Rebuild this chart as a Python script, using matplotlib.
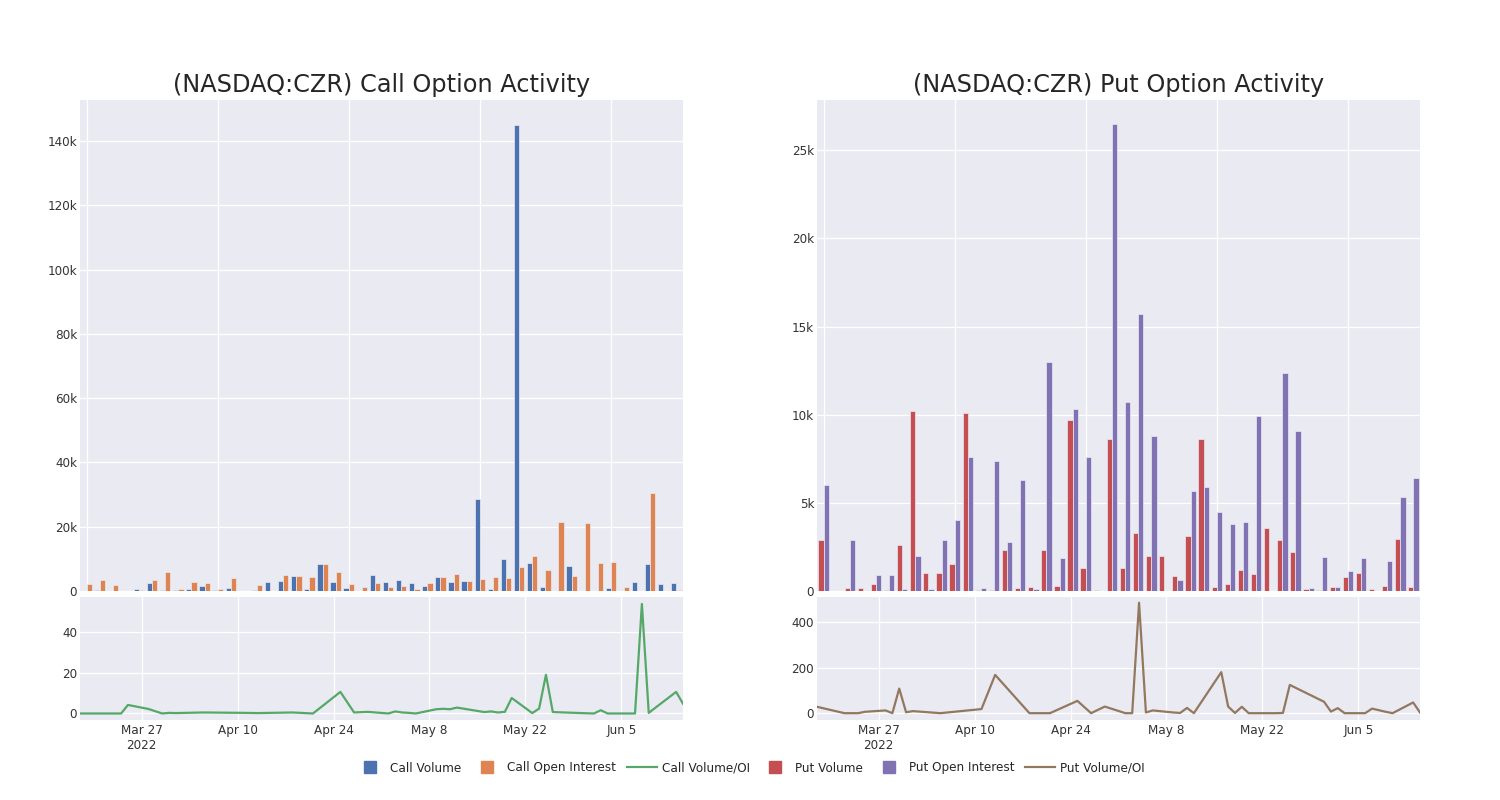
import matplotlib
matplotlib.use("Agg")
import matplotlib.pyplot as plt
from matplotlib.lines import Line2D
from matplotlib.ticker import FuncFormatter, FixedLocator
import numpy as np
import datetime as dt

plt.rcParams['font.family'] = ['DejaVu Sans']

# ---------------- data ----------------
dates = [
    "2022-03-18", "2022-03-22", "2022-03-24", "2022-03-25", "2022-03-28", "2022-03-29",
    "2022-03-30", "2022-03-31", "2022-04-01", "2022-04-05", "2022-04-11", "2022-04-13",
    "2022-04-18", "2022-04-21", "2022-04-25", "2022-04-27", "2022-04-29", "2022-05-02",
    "2022-05-03", "2022-05-04", "2022-05-05", "2022-05-06", "2022-05-09", "2022-05-10",
    "2022-05-11", "2022-05-12", "2022-05-16", "2022-05-17", "2022-05-18", "2022-05-19",
    "2022-05-20", "2022-05-23", "2022-05-24", "2022-05-25", "2022-05-26", "2022-05-31",
    "2022-06-01", "2022-06-02", "2022-06-03", "2022-06-06", "2022-06-07", "2022-06-08",
    "2022-06-09", "2022-06-10", "2022-06-13", "2022-06-14",
]

call_volume = [100, 400, 100, 100, 700, 2400, 300, 200, 700, 1700, 300, 900, 50, 300,
               2800, 3100, 4700, 500, 8400, 2900, 900, 100, 5100, 2800, 3300, 2600, 1600,
               4300, 2700, 3100, 28700, 700, 10100, 145100, 8600, 1100, 100, 7700, 50, 100,
               1000, 100, 2800, 8500, 2300, 2500]
call_oi = [2100, 3500, 1900, 30, 300, 3400, 6000, 600, 2900, 2600, 600, 3900, 50, 1900,
           100, 5100, 4700, 4400, 8300, 6000, 2200, 1200, 2500, 1100, 1600, 700, 2600,
           4300, 5400, 3200, 3600, 4300, 4100, 7500, 11000, 6400, 21500, 4800, 21100, 8800,
           9000, 1100, 50, 30600, 100, 400]
call_vo = [0, 0, 0, 4.2, 2.2, 1.1, 0, 0.3, 0.2, 0.5, 0.3, 0.2, 0.5, 0, 10.6, 0.5, 0.8, 0,
           1.0, 0.5, 0.3, 0, 2.1, 2.3, 2.1, 2.9, 0.7, 1.0, 0.5, 0.8, 7.6, 0.2, 2.4, 19.0,
           0.7, 0.1, 0, 1.6, 0, 0, 0, 53.8, 0.3, 2.9, 10.6, 4.8]

put_volume = [2900, 0, 170, 150, 400, 80, 2600, 10200, 1000, 1000, 1550, 10100, 50, 50,
              2300, 170, 200, 2350, 300, 9700, 1300, 60, 8600, 1300, 3300, 2000, 2000, 850,
              3100, 8600, 230, 400, 1200, 970, 3560, 2900, 2200, 130, 50, 200, 800, 1040,
              130, 280, 2950, 230]
put_oi = [6000, 0, 2900, 0, 900, 900, 100, 2000, 100, 2900, 4000, 7600, 150, 7400, 2800,
          6300, 100, 13000, 1900, 10300, 7600, 0, 26500, 10700, 15700, 8800, 0, 650, 5700,
          5900, 4500, 3800, 3900, 9900, 0, 12350, 9050, 150, 1930, 200, 1150, 1900, 0, 1700,
          5360, 6400]
put_vo = [28, 0, 0, 6, 12, 0, 108, 4, 9, 0, 18, 168, 0, 0, 54, 0, 29, 0, 0, 485, 3, 12, 3,
          1, 23, 0, 180, 29, 1, 28, 0, 0, 0, 1, 124, 50, 7, 22, 0, 0, 20, 13, 6, 0, 47, 3]

date_ticks = ["2022-03-27", "2022-04-10", "2022-04-24", "2022-05-08", "2022-05-22", "2022-06-05"]
date_tick_labels = ["Mar 27\n2022", "Apr 10", "Apr 24", "May 8", "May 22", "Jun 5"]

titles = ["(NASDAQ:CZR) Call Option Activity", "(NASDAQ:CZR) Put Option Activity"]
legend_labels = ["Call Volume", "Call Open Interest", "Call Volume/OI",
                 "Put Volume", "Put Open Interest", "Put Volume/OI"]

# ---------------- style ----------------
BG = "#EAEAF2"
C_BLUE, C_ORANGE, C_GREEN = "#4C72B0", "#DD8452", "#55A868"
C_RED, C_PURPLE, C_BROWN = "#C44E52", "#8172B3", "#937860"
TXT = "#262626"
TICK = "#333333"
FS = 8.64

W, H = 1500, 800
fig = plt.figure(figsize=(W / 100, H / 100), dpi=100)


def px_axes(x0, x1, y0, y1):
    return fig.add_axes([x0 / W, 1 - y1 / H, (x1 - x0) / W, (y1 - y0) / H])


def style(ax):
    ax.set_facecolor(BG)
    for s in ax.spines.values():
        s.set_visible(False)
    ax.grid(True, color="white", linewidth=0.9)
    ax.set_axisbelow(True)
    ax.tick_params(length=0, labelsize=FS, colors=TICK, pad=2)


def kfmt(v, pos):
    if v == 0:
        return "0"
    return f"{int(round(v / 1000))}k"


date_objs = [dt.datetime.strptime(d, "%Y-%m-%d") for d in dates]
tick_objs = [dt.datetime.strptime(d, "%Y-%m-%d") for d in date_ticks]
cats = np.arange(len(dates))

panels = [
    dict(x0=80, x1=683, vol=call_volume, oi=call_oi, vo=call_vo, cv=C_BLUE, co=C_ORANGE,
         cl=C_GREEN, ymax=152800, ystep=20000, vo_lim=(-3.2, 57.2), vo_ticks=[0, 20, 40],
         title=titles[0]),
    dict(x0=817, x1=1420, vol=put_volume, oi=put_oi, vo=put_vo, cv=C_RED, co=C_PURPLE,
         cl=C_BROWN, ymax=27850, ystep=5000, vo_lim=(-30, 510), vo_ticks=[0, 200, 400],
         title=titles[1]),
]

for p in panels:
    ax = px_axes(p["x0"], p["x1"], 100, 591)
    style(ax)
    bw = 0.4
    ax.bar(cats - bw / 2, p["vol"], width=bw, color=p["cv"], edgecolor=BG, linewidth=0.5)
    ax.bar(cats + bw / 2, p["oi"], width=bw, color=p["co"], edgecolor=BG, linewidth=0.5)
    ax.set_xlim(-0.5, len(dates) - 0.5)
    ax.set_ylim(0, p["ymax"])
    ax.xaxis.set_major_locator(FixedLocator([0, 10, 20, 30, 40]))
    ax.set_xticklabels([])
    ax.yaxis.set_major_locator(FixedLocator(np.arange(0, p["ymax"], p["ystep"])))
    ax.yaxis.set_major_formatter(FuncFormatter(kfmt))
    ax.set_title(p["title"], fontsize=17.3, color=TXT, pad=6)

    ax2 = px_axes(p["x0"], p["x1"], 597, 720)
    style(ax2)
    ax2.plot(date_objs, p["vo"], color=p["cl"], linewidth=1.6)
    ax2.set_xlim(date_objs[0], date_objs[-1])
    ax2.set_ylim(*p["vo_lim"])
    ax2.set_yticks(p["vo_ticks"])
    ax2.set_yticklabels([str(v) for v in p["vo_ticks"]])
    ax2.set_xticks(tick_objs)
    ax2.set_xticklabels(date_tick_labels)
    ax2.tick_params(axis="x", pad=3)

handles = [
    Line2D([], [], marker="s", linestyle="none", markersize=9, color=C_BLUE),
    Line2D([], [], marker="s", linestyle="none", markersize=9, color=C_ORANGE),
    Line2D([], [], color=C_GREEN, linewidth=1.6),
    Line2D([], [], marker="s", linestyle="none", markersize=9, color=C_RED),
    Line2D([], [], marker="s", linestyle="none", markersize=9, color=C_PURPLE),
    Line2D([], [], color=C_BROWN, linewidth=1.6),
]
fig.legend(handles, legend_labels, loc="center", bbox_to_anchor=(0.5, 1 - 768 / H), ncol=6,
           frameon=False, fontsize=FS, handlelength=2.5, handletextpad=0.4,
           columnspacing=0.9, labelcolor=TXT)

fig.savefig("out.png", dpi=100, facecolor="white")
